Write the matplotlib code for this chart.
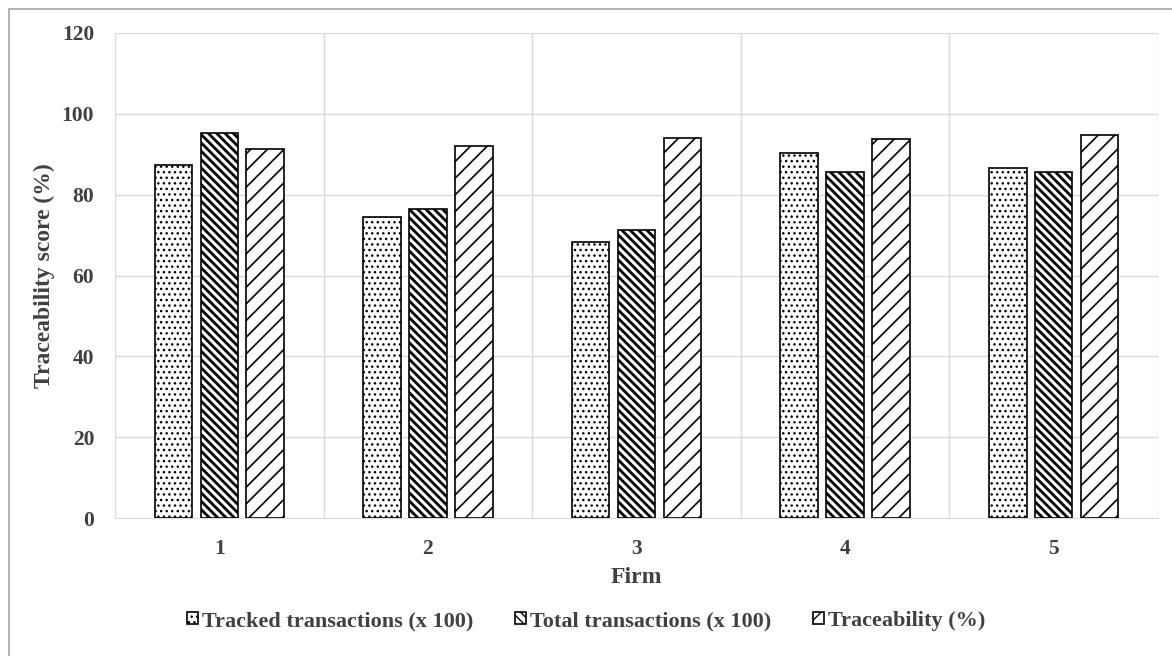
import matplotlib.pyplot as plt
import numpy as np
from matplotlib.patches import Rectangle

plt.rcParams["font.family"] = "Liberation Serif"
plt.rcParams["font.weight"] = "bold"

firms = ["1", "2", "3", "4", "5"]
tracked = [87.4, 74.5, 68.3, 90.3, 86.5]
total = [95.3, 76.5, 71.3, 85.5, 85.5]
traceability = [91.3, 92.0, 94.0, 93.8, 94.7]

SERIES = [
    ("Tracked transactions (x 100)", tracked, "...", 1.0),
    ("Total transactions (x 100)", total, "\\\\\\\\", 2.0),
    ("Traceability (%)", traceability, "//", 1.2),
]
TXT = "#404040"
GRID = "#d9d9d9"

fig = plt.figure(figsize=(11.72, 6.56), dpi=100)
ax = fig.add_axes([115 / 1172, 1 - 518 / 656, (1158 - 115) / 1172, (518 - 33) / 656])

x = np.arange(len(firms))
w = 0.18
offs = [-0.22, 0.0, 0.22]
for (lab, vals, hatch, hlw), off in zip(SERIES, offs):
    bars = ax.bar(x + off, vals, w, color="white", edgecolor="black",
                  linewidth=1.2, hatch=hatch, label=lab, zorder=3)
    for b in bars:
        try:
            b.set_hatch_linewidth(hlw)
        except AttributeError:
            pass

ax.set_ylim(0, 120)
ax.set_yticks(np.arange(0, 121, 20))
ax.set_xlim(-0.5, 4.5)
ax.set_xticks(x)
ax.set_xticklabels(firms)
for yv in np.arange(20, 121, 20):
    ax.axhline(yv, color=GRID, lw=1.0, zorder=0)
for xv in np.arange(-0.5, 4.6, 1.0):
    ax.axvline(xv, color=GRID, lw=1.0, zorder=0)
for s in ["top", "right", "left"]:
    ax.spines[s].set_visible(False)
ax.spines["bottom"].set_color(GRID)
ax.tick_params(length=0, labelsize=15.5, colors=TXT)
ax.tick_params(axis="y", pad=15)
ax.tick_params(axis="x", pad=15)
for t in ax.get_xticklabels() + ax.get_yticklabels():
    t.set_fontweight("bold")

ax.set_ylabel("Traceability score (%)", fontsize=17, fontweight="bold",
              color=TXT, labelpad=5)
ax.set_xlabel("Firm", fontsize=17, fontweight="bold", color=TXT, labelpad=6)

leg = fig.legend(loc="center", bbox_to_anchor=(0.5, 1 - 621 / 656), ncol=3,
                 frameon=False, handlelength=0.5, handleheight=0.5,
                 handletextpad=0.15, columnspacing=1.9,
                 prop={"weight": "bold", "size": 16})
for t in leg.get_texts():
    t.set_color(TXT)

fig.patches.append(Rectangle((9 / 1172, -0.1), 1.2, 1 - 9 / 656 + 0.1,
                             transform=fig.transFigure, fill=False,
                             edgecolor="#a6a6a6", lw=1.2))

fig.savefig("out.png", dpi=100)
